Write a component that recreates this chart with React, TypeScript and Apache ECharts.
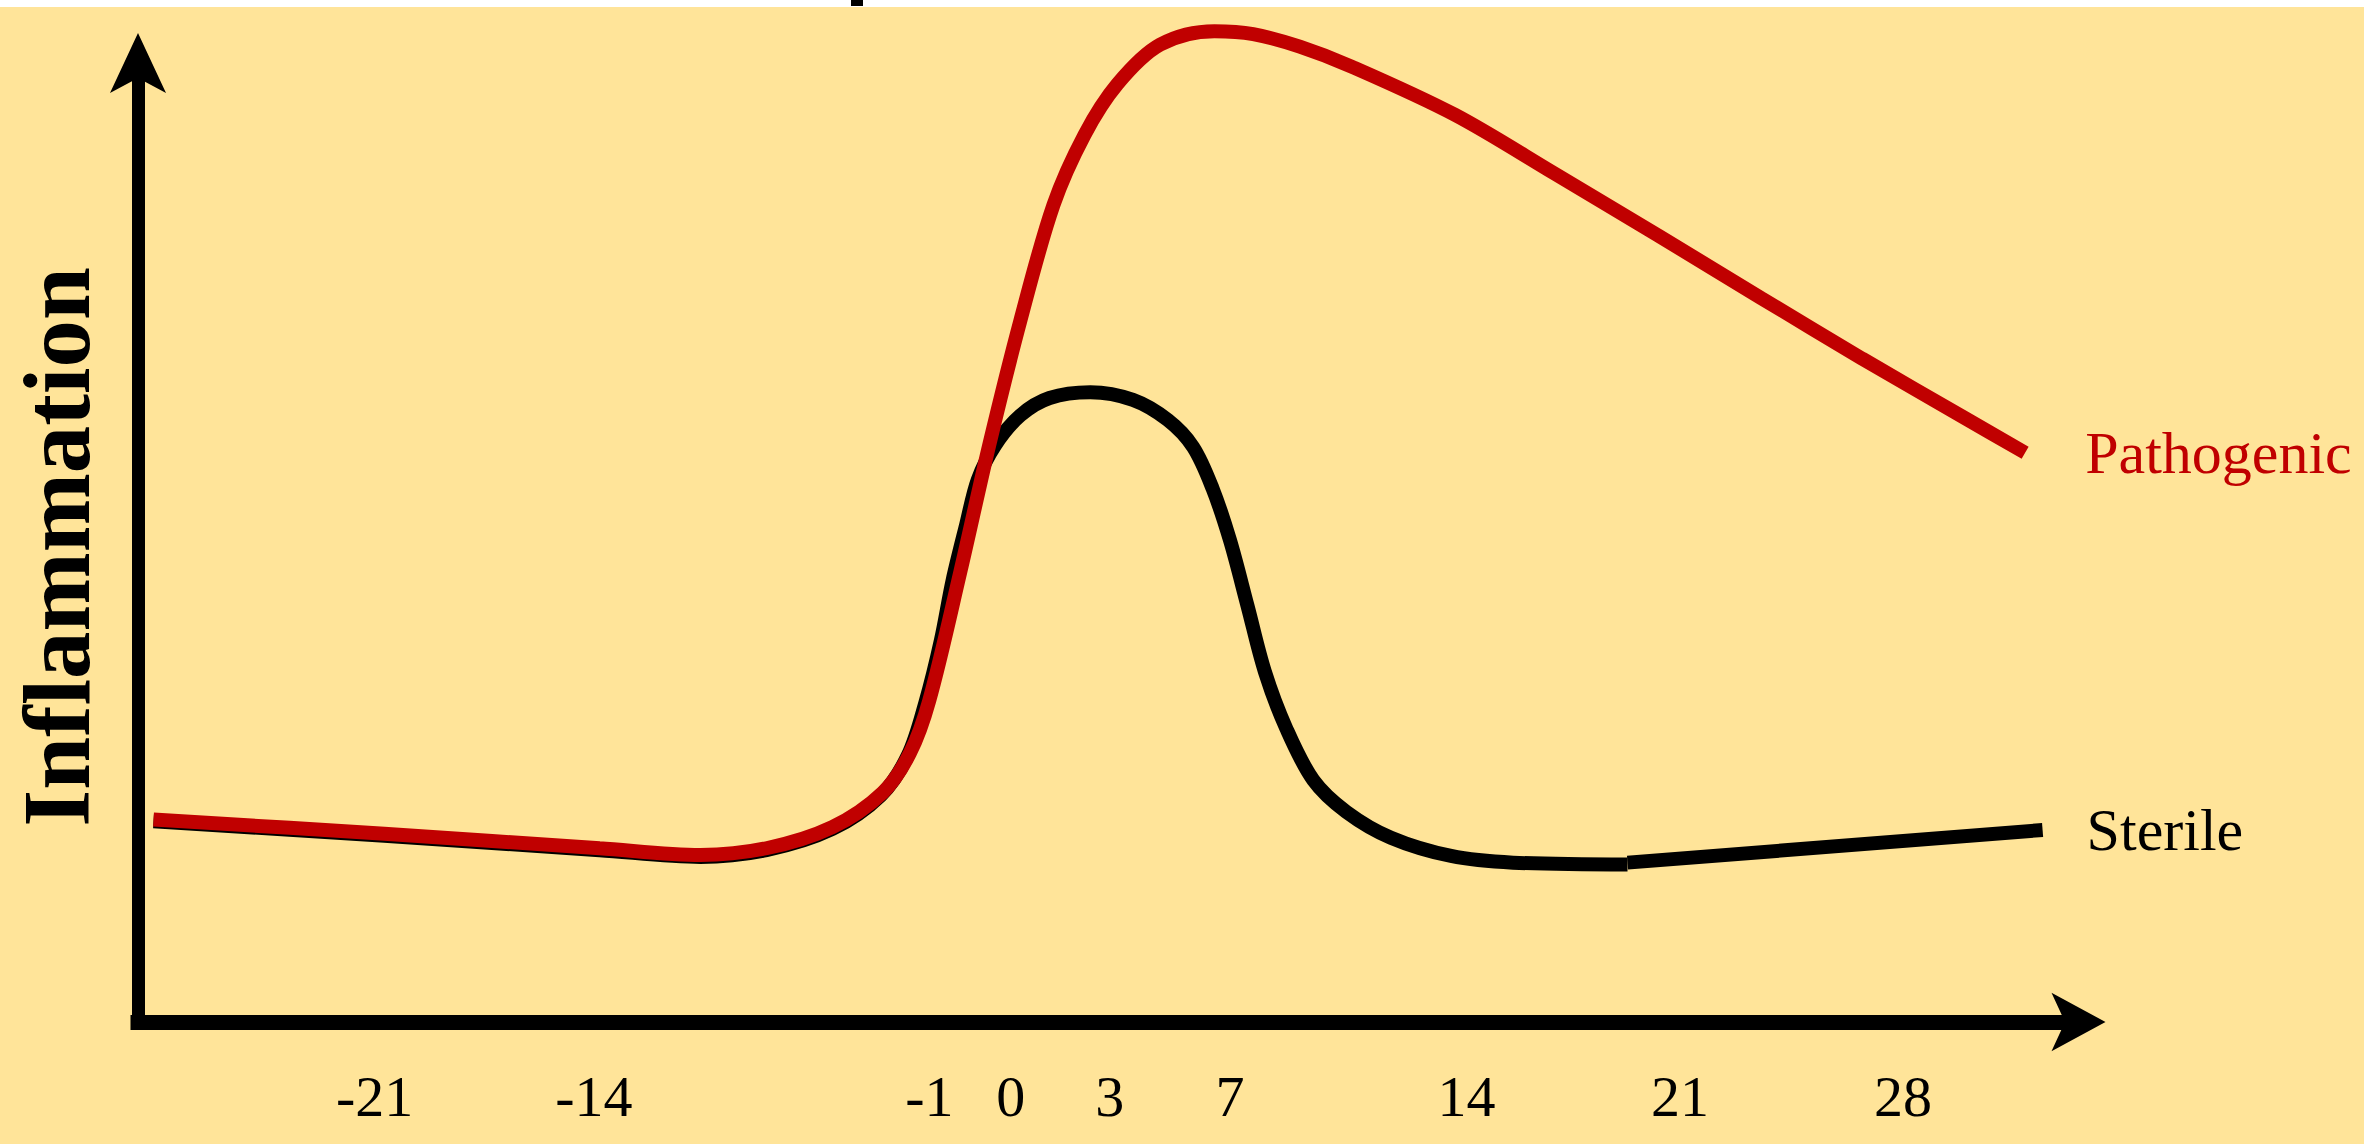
import { useEffect, useRef } from 'react';
import * as echarts from 'echarts';

// Schematic time axis: positions along the axis (0–100) and the day labels shown there
const X_TICK_POS = [12.2, 23.5, 40.8, 45.0, 50.1, 56.3, 68.5, 79.5, 91.0];
const X_TICK_LABELS = ['-21', '-14', '-1', '0', '3', '7', '14', '21', '28'];

// Pathogenic inflammation curve (axis position, inflammation level 0–100)
const PATHOGENIC_X = [0.8, 12.7, 23.8, 29.0, 32.4, 35.8, 38.4, 39.8, 40.8, 42.4, 43.9, 45.5, 47.2, 48.8, 50.5, 52.7, 55.5, 57.5, 59.9, 62.6, 67.9, 73.1, 78.4, 83.7, 88.9, 94.2, 97.3];
const PATHOGENIC_Y = [21.1, 19.6, 18.1, 17.4, 18.1, 20.3, 23.9, 28.0, 33.5, 46.9, 60.2, 73.1, 85.1, 92.4, 97.7, 101.8, 103.2, 102.9, 101.6, 99.5, 94.5, 88.3, 81.9, 75.4, 69.1, 62.9, 59.3];

// Sterile inflammation curve
const STERILE_X = [0.8, 12.7, 23.8, 29.0, 32.4, 35.8, 38.3, 39.7, 40.6, 41.4, 42.0, 42.7, 43.3, 44.2, 45.5, 47.0, 49.1, 51.3, 53.1, 54.4, 55.4, 56.3, 57.2, 58.1, 59.2, 60.6, 62.3, 64.6, 67.7, 70.9, 76.8];
const STERILE_Y = [20.9, 19.4, 17.9, 17.2, 17.9, 20.1, 23.6, 27.8, 33.3, 39.8, 46.0, 51.8, 56.5, 60.1, 63.2, 65.0, 65.6, 64.8, 62.7, 59.9, 55.6, 50.2, 43.4, 36.5, 30.6, 25.2, 21.9, 19.2, 17.3, 16.6, 16.4];
// Sterile straight tail segment
const STERILE_TAIL_X = [76.8, 98.2];
const STERILE_TAIL_Y = [16.6, 20.0];

const SERIES_NAMES = ['Pathogenic', 'Sterile'];
const Y_TITLE = 'Inflammation';

const BG = '#FFE499';
const RED = '#C00000';
const BLACK = '#000000';
const SERIF = '"Liberation Serif", "Times New Roman", serif';

const zip = (xs: number[], ys: number[]) => xs.map((x, i) => [x, ys[i]]);

export default function App() {
  const ref = useRef<HTMLDivElement>(null);
  useEffect(() => {
    const chart = echarts.init(ref.current!, null, { renderer: 'svg' });
    chart.setOption({
      animation: false,
      backgroundColor: BG,
      grid: {
        left: 138,
        right: 286.5,
        top: 62,
        bottom: 122,
        containLabel: false,
        outerBoundsMode: 'none',
      },
      xAxis: {
        type: 'value',
        min: 0,
        max: 100,
        splitLine: { show: false },
        axisTick: { show: false },
        axisLine: {
          show: true,
          onZero: false,
          symbol: ['none', 'arrow'],
          symbolSize: [44, 54],
          symbolOffset: [0, 28],
          lineStyle: { color: BLACK, width: 15, cap: 'square' },
        },
        axisLabel: {
          show: true,
          customValues: X_TICK_POS,
          formatter: (v: number) => {
            let best = 0;
            X_TICK_POS.forEach((p, i) => {
              if (Math.abs(p - v) < Math.abs(X_TICK_POS[best] - v)) best = i;
            });
            return X_TICK_LABELS[best];
          },
          color: BLACK,
          fontSize: 58,
          fontFamily: SERIF,
          margin: 45,
        },
      },
      yAxis: {
        type: 'value',
        min: 0,
        max: 100,
        splitLine: { show: false },
        axisTick: { show: false },
        axisLabel: { show: false },
        axisLine: {
          show: true,
          onZero: false,
          symbol: ['none', 'arrow'],
          symbolSize: [42, 60],
          symbolOffset: [0, 29],
          lineStyle: { color: BLACK, width: 13, cap: 'square' },
        },
      },
      graphic: [
        { type: 'rect', x: 0, y: 0, shape: { width: 2364, height: 7 }, style: { fill: '#FFFFFF' }, silent: true },
        { type: 'rect', x: 851, y: 0, shape: { width: 12, height: 6 }, style: { fill: '#000000' }, silent: true },
        {
          type: 'text',
          x: 57,
          y: 547,
          rotation: Math.PI / 2,
          silent: true,
          style: {
            text: Y_TITLE,
            fontSize: 95,
            fontWeight: 'bold',
            fontFamily: SERIF,
            fill: BLACK,
            align: 'center',
            verticalAlign: 'middle',
            textAlign: 'center',
            textVerticalAlign: 'middle',
          },
        },
      ],
      series: [
        {
          name: SERIES_NAMES[1],
          type: 'line',
          data: zip(STERILE_X, STERILE_Y),
          smooth: 0.33,
          symbol: 'none',
          clip: false,
          lineStyle: { color: BLACK, width: 14 },
          z: 2,
        },
        {
          name: SERIES_NAMES[1],
          type: 'line',
          data: zip(STERILE_TAIL_X, STERILE_TAIL_Y),
          smooth: false,
          symbol: 'none',
          clip: false,
          lineStyle: { color: BLACK, width: 14 },
          endLabel: {
            show: true,
            formatter: SERIES_NAMES[1],
            color: BLACK,
            fontSize: 60,
            fontFamily: SERIF,
            distance: 44,
          },
          z: 2,
        },
        {
          name: SERIES_NAMES[0],
          type: 'line',
          data: zip(PATHOGENIC_X, PATHOGENIC_Y),
          smooth: 0.33,
          symbol: 'none',
          clip: false,
          lineStyle: { color: RED, width: 14 },
          endLabel: {
            show: true,
            formatter: SERIES_NAMES[0],
            color: RED,
            fontSize: 60,
            fontFamily: SERIF,
            distance: 60,
          },
          z: 3,
        },
      ],
    });
    return () => chart.dispose();
  }, []);
  return (
    <div
      ref={ref}
      style={{ position: 'absolute', left: 0, top: 0, width: 2364, height: 1144 }}
    />
  );
}
